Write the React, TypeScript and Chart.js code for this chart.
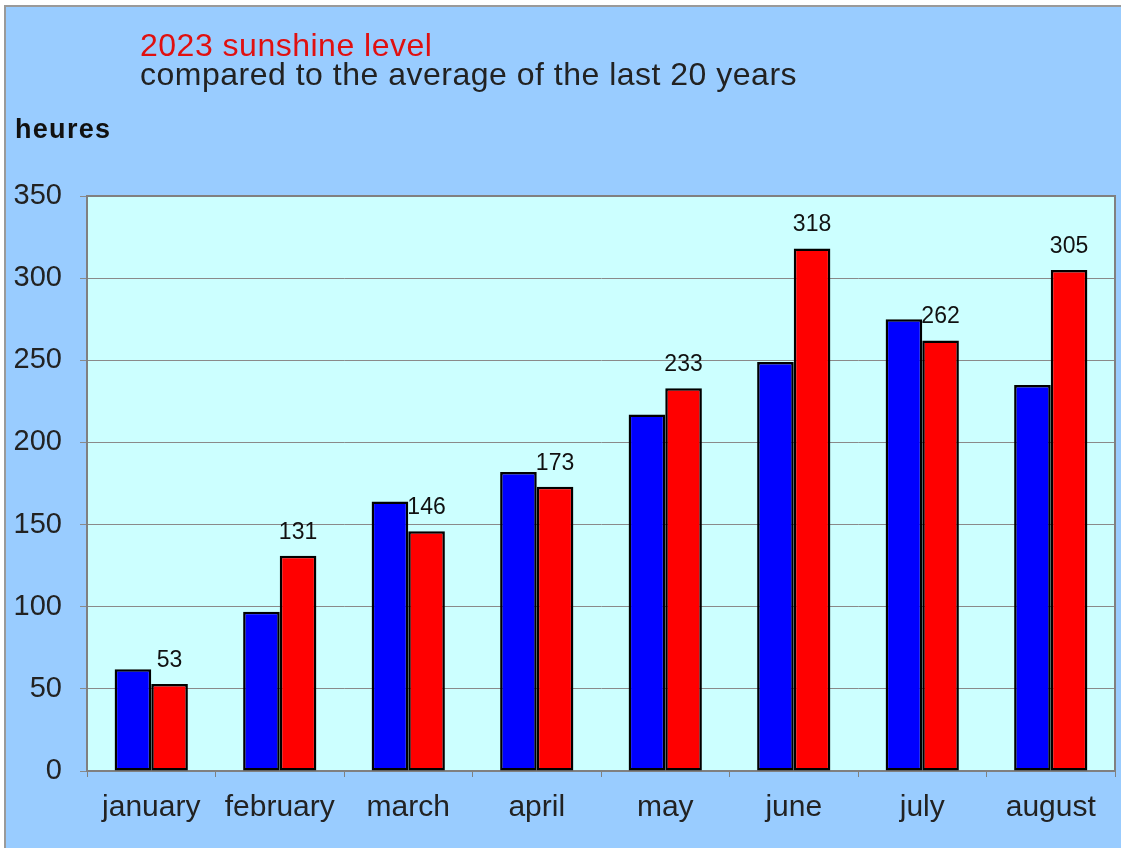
import React, { useEffect, useRef } from "react";
import { Chart, registerables } from "chart.js";

Chart.register(...registerables);

const categories = ["january", "february", "march", "april", "may", "june", "july", "august"];
const average20Years = [62, 97, 164, 182, 217, 249, 275, 235];
const sunshine2023 = [53, 131, 146, 173, 233, 318, 262, 305];
const yTicks = [0, 50, 100, 150, 200, 250, 300, 350];
const titleLine1 = "2023 sunshine level";
const titleLine2 = "compared to the average of the last 20 years";
const yAxisLabel = "heures";

const FONT = "'Liberation Sans', Arial, sans-serif";

export default function App() {
  const ref = useRef<HTMLCanvasElement | null>(null);

  useEffect(() => {
    const canvas = ref.current;
    if (!canvas) return;

    const decor = {
      id: "decor",
      beforeDraw(chart: any) {
        const { ctx, chartArea } = chart;
        ctx.save();
        ctx.fillStyle = "#CCFFFF";
        ctx.fillRect(chartArea.left, chartArea.top, chartArea.right - chartArea.left, chartArea.bottom - chartArea.top);
        ctx.restore();
      },
      afterDraw(chart: any) {
        const { ctx, chartArea } = chart;
        ctx.save();
        ctx.strokeStyle = "#808080";
        ctx.lineWidth = 2;
        ctx.beginPath();
        ctx.moveTo(chartArea.left, chartArea.top);
        ctx.lineTo(chartArea.right, chartArea.top);
        ctx.lineTo(chartArea.right, chartArea.bottom);
        ctx.stroke();
        // titles
        ctx.textBaseline = "alphabetic";
        ctx.textAlign = "left";
        (ctx as any).letterSpacing = "0.5px";
        ctx.font = `32px ${FONT}`;
        ctx.fillStyle = "#E01010";
        ctx.fillText(titleLine1, 140, 56);
        ctx.fillStyle = "#222222";
        ctx.fillText(titleLine2, 140, 85);
        (ctx as any).letterSpacing = "1.3px";
        ctx.font = `bold 27px ${FONT}`;
        ctx.fillStyle = "#111111";
        ctx.fillText(yAxisLabel, 15, 138);
        // value labels on 2023 series
        (ctx as any).letterSpacing = "0px";
        const meta = chart.getDatasetMeta(1);
        ctx.font = `23px ${FONT}`;
        ctx.fillStyle = "#111111";
        ctx.textAlign = "center";
        ctx.textBaseline = "bottom";
        meta.data.forEach((bar: any, i: number) => {
          ctx.fillText(String(sunshine2023[i]), bar.x, bar.y - 12);
        });
        ctx.restore();
      },
    };

    const chart = new Chart(canvas, {
      type: "bar",
      data: {
        labels: categories,
        datasets: [
          {
            label: "average of the last 20 years",
            data: average20Years,
            backgroundColor: "#0000FF",
            borderColor: "#000000",
            borderWidth: 2.5,
            borderSkipped: false,
            categoryPercentage: 0.57,
            barPercentage: 1,
          },
          {
            label: "2023",
            data: sunshine2023,
            backgroundColor: "#FF0000",
            borderColor: "#000000",
            borderWidth: 2.5,
            borderSkipped: false,
            categoryPercentage: 0.57,
            barPercentage: 1,
          },
        ],
      },
      options: {
        responsive: false,
        animation: false,
        layout: { padding: { top: 196, right: 6, left: 0, bottom: 0 } },
        plugins: {
          legend: { display: false },
          tooltip: { enabled: false },
          title: { display: false },
        },
        scales: {
          x: {
            grid: {
              display: true,
              drawOnChartArea: false,
              drawTicks: true,
              tickLength: 6,
              color: "#808080",
              lineWidth: 1,
            },
            border: { display: true, color: "#808080", width: 2 },
            ticks: {
              color: "#222222",
              font: { family: FONT, size: 30 },
              padding: 13,
            },
            afterFit(scale: any) {
              scale.height = 77;
            },
          },
          y: {
            min: 0,
            max: 350,
            afterBuildTicks(scale: any) {
              scale.ticks = yTicks.map((v) => ({ value: v }));
            },
            grid: {
              color: "#8A8A8A",
              lineWidth: 1,
              tickLength: 7,
              drawTicks: true,
            },
            border: { display: true, color: "#808080", width: 2 },
            ticks: {
              color: "#222222",
              font: { family: FONT, size: 29 },
              padding: 18,
            },
            afterFit(scale: any) {
              scale.width = 87;
            },
          },
        },
      },
      plugins: [decor],
    });

    return () => chart.destroy();
  }, []);

  return (
    <div style={{ position: "fixed", left: 0, top: 0, width: 1121, height: 848, background: "#FFFFFF", overflow: "hidden" }}>
      <div
        style={{
          position: "absolute",
          left: 4,
          top: 5,
          width: 1130,
          height: 860,
          background: "#99CCFF",
          borderLeft: "2px solid #9A9A9A",
          borderTop: "2px solid #9A9A9A",
        }}
      />
      <canvas ref={ref} width={1121} height={848} style={{ position: "absolute", left: 0, top: 0 }} />
    </div>
  );
}
